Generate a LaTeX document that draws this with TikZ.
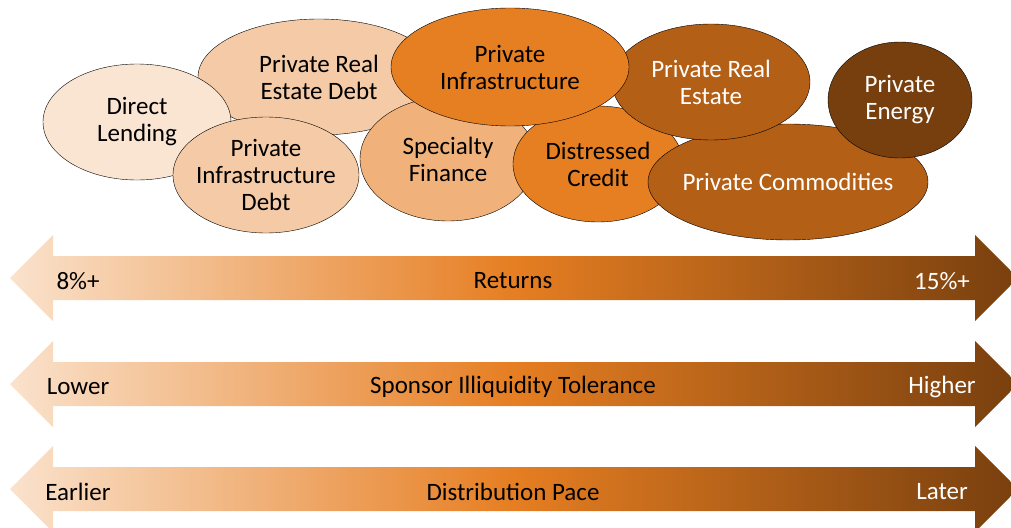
\documentclass[tikz,border=0pt]{standalone}
\usepackage{fontspec}
\setmainfont{Carlito}
\usepackage{tikz}
\usetikzlibrary{shapes.geometric}

\definecolor{peachA}{RGB}{250,229,211}
\definecolor{peachB}{RGB}{245,203,167}
\definecolor{peachC}{RGB}{240,178,122}
\definecolor{orangeA}{RGB}{230,126,34}
\definecolor{brownA}{RGB}{179,95,22}
\definecolor{brownB}{RGB}{120,63,14}
\definecolor{barleft}{RGB}{250,226,204}

\begin{document}
\begin{tikzpicture}[x=1pt,y=-1pt]
  \tikzset{myblob/.style={ellipse, draw=black, inner xsep=-60pt, inner ysep=-30pt, align=center,
      font=\fontsize{25}{27}\selectfont}};
  \tikzset{mybar/.style={left color=barleft, right color=brownB, middle color=orangeA}};
  \tikzset{mylabel/.style={font=\fontsize{25}{27}\selectfont, yshift=-2pt}};
  \useasboundingbox (0,0) rectangle (1011,527);
  \clip (0,0) rectangle (1011,527);

  \node[myblob, fill=peachB, minimum width=242pt, minimum height=116pt] (red) at (319,77) {Private Real\\Estate Debt};
  \node[myblob, fill=peachA, minimum width=188pt, minimum height=116pt] (dl) at (137,122) {Direct\\Lending};
  \node[myblob, fill=peachB, minimum width=186pt, minimum height=116pt] (pid) at (266,175) {Private\\Infrastructure\\Debt};
  \node[myblob, fill=peachC, minimum width=176pt, minimum height=124pt] (sf) at (448,159) {Specialty\\Finance};
  \node[myblob, fill=orangeA, minimum width=170pt, minimum height=116pt] (dc) at (598,164) {Distressed\\Credit};
  \node[myblob, fill=brownA, text=white, minimum width=280pt, minimum height=116pt] (pc) at (788,182) {Private Commodities};
  \node[myblob, fill=brownA, text=white, minimum width=198pt, minimum height=116pt] (pre) at (711,82) {Private Real\\Estate};
  \node[myblob, fill=orangeA, minimum width=238pt, minimum height=118pt] (pi) at (510,67) {Private\\Infrastructure};
  \node[myblob, fill=brownB, text=white, minimum width=144pt, minimum height=116pt] (pe) at (900,100) {Private\\Energy};

  % returns
  \shade[mybar] (10,278) -- (53,235) -- (53,256) -- (975,256) -- (975,235) -- (1018,278)
    -- (975,321) -- (975,300) -- (53,300) -- (53,321) -- cycle;
  \node[mylabel] (r1) at (78,279) {8\%+};
  \node[mylabel] (r2) at (513,279) {Returns};
  \node[mylabel, text=white] (r3) at (942,279) {15\%+};

  % illiquidity
  \shade[mybar] (10,384) -- (53,341) -- (53,362) -- (975,362) -- (975,341) -- (1018,384)
    -- (975,427) -- (975,406) -- (53,406) -- (53,427) -- cycle;
  \node[mylabel] (t1) at (78,385) {Lower};
  \node[mylabel] (t2) at (513,385) {Sponsor Illiquidity Tolerance};
  \node[mylabel, text=white] (t3) at (942,385) {Higher};

  % distribution
  \shade[mybar] (10,489) -- (53,446) -- (53,467) -- (975,467) -- (975,446) -- (1018,489)
    -- (975,532) -- (975,511) -- (53,511) -- (53,532) -- cycle;
  \node[mylabel] (d1) at (78,490) {Earlier};
  \node[mylabel] (d2) at (513,490) {Distribution Pace};
  \node[mylabel, text=white] (d3) at (942,490) {Later};
\end{tikzpicture}
\end{document}
